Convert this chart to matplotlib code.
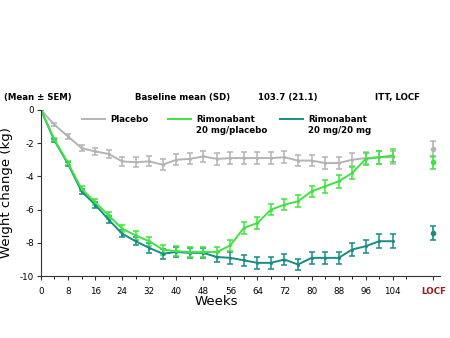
import numpy as np
import matplotlib.pyplot as plt

plt.rcParams['font.family'] = ['DejaVu Sans']
plt.rcParams['axes.unicode_minus'] = False

weeks = list(range(0, 105, 4))

placebo = [0, -0.9, -1.6, -2.3, -2.5, -2.65, -3.1, -3.15, -3.1, -3.3, -3.0, -2.95, -2.8, -2.95,
           -2.9, -2.9, -2.9, -2.9, -2.85, -3.05, -3.05, -3.2, -3.2, -3.0, -2.9, -2.85, -2.85]
placebo_err = [0, 0.1, 0.15, 0.2, 0.22, 0.25, 0.28, 0.3, 0.3, 0.32, 0.32, 0.33, 0.35, 0.35,
               0.35, 0.35, 0.35, 0.35, 0.35, 0.35, 0.35, 0.38, 0.38, 0.38, 0.38, 0.38, 0.38]

rimo_pbo = [0, -1.8, -3.2, -4.75, -5.55, -6.35, -7.15, -7.55, -7.9, -8.4, -8.5, -8.55, -8.55, -8.55,
            -8.15, -7.1, -6.8, -6.0, -5.7, -5.5, -4.9, -4.6, -4.3, -3.8, -2.95, -2.85, -2.75]
rimo_pbo_err = [0, 0.1, 0.12, 0.15, 0.18, 0.2, 0.22, 0.25, 0.28, 0.3, 0.3, 0.3, 0.32, 0.32,
                0.35, 0.35, 0.35, 0.35, 0.35, 0.35, 0.35, 0.38, 0.38, 0.38, 0.38, 0.4, 0.4]

rimo_20 = [0, -1.85, -3.25, -4.9, -5.7, -6.6, -7.45, -7.9, -8.3, -8.65, -8.55, -8.6, -8.6, -8.85,
           -8.9, -9.05, -9.2, -9.2, -9.0, -9.3, -8.9, -8.9, -8.9, -8.4, -8.2, -7.9, -7.9]
rimo_20_err = [0, 0.1, 0.12, 0.15, 0.18, 0.2, 0.22, 0.25, 0.28, 0.3, 0.3, 0.3, 0.32, 0.32,
               0.35, 0.35, 0.35, 0.35, 0.35, 0.35, 0.38, 0.38, 0.38, 0.4, 0.4, 0.42, 0.42]

locf_week = 116
locf_vals = [-2.35, -3.15, -7.4]
locf_errs = [0.5, 0.4, 0.4]

c_pbo = '#b4b4b4'
c_green = '#3ee43e'
c_teal = '#178c84'
colors = [c_pbo, c_green, c_teal]

fig = plt.figure(figsize=(4.5, 3.38), dpi=100)
ax = fig.add_axes([0.091, 0.183, 0.887, 0.492])

series = [(placebo, placebo_err, c_pbo),
          (rimo_20, rimo_20_err, c_teal),
          (rimo_pbo, rimo_pbo_err, c_green)]
for vals, err, col in series:
    ax.errorbar(weeks, vals, yerr=err, color=col, lw=1.4, elinewidth=1.1,
                capsize=2, capthick=1.1, marker='o', ms=1.2)

for v, e, col in zip(locf_vals, locf_errs, colors):
    ax.errorbar([locf_week], [v], yerr=[e], color=col, lw=1.2, elinewidth=1.2,
                capsize=2, capthick=1.1, marker='o', ms=3)

ax.set_xlim(0, 118)
ax.set_ylim(-10, 0)
for s in ['top', 'right']:
    ax.spines[s].set_visible(False)
ax.spines['left'].set_color('#333333')
ax.spines['bottom'].set_color('#333333')

xt = list(range(0, 105, 8)) + [locf_week]
ax.set_xticks(xt)
ax.set_xticklabels([str(w) for w in range(0, 105, 8)] + ['LOCF'], fontsize=6.3)
ax.get_xticklabels()[-1].set_color('#9b1c1c')
ax.get_xticklabels()[-1].set_fontweight('bold')
ax.set_xticks(list(range(4, 118, 8)), minor=True)
ax.set_yticks([0, -2, -4, -6, -8, -10])
ax.set_yticklabels(['0', '-2', '-4', '-6', '-8', '-10'], fontsize=6.3)
ax.tick_params(axis='both', length=3, width=0.8, pad=2, color='#333333')
ax.tick_params(axis='x', which='minor', length=2, width=0.6)
ax.tick_params(axis='x', pad=5)

ax.set_xlabel('Weeks', fontsize=9.5, labelpad=1)
ax.xaxis.set_label_coords(0.44, -0.115)
ax.set_ylabel('Weight change (kg)', fontsize=9.5, labelpad=5)

fig.text(0.008, 0.705, '(Mean \u00b1 SEM)', fontsize=6.2, fontweight='bold')
fig.text(0.30, 0.705, 'Baseline mean (SD)', fontsize=6.2, fontweight='bold')
fig.text(0.573, 0.705, '103.7 (21.1)', fontsize=6.2, fontweight='bold')
fig.text(0.833, 0.705, 'ITT, LOCF', fontsize=6.2, fontweight='bold')

# legend drawn by hand across the top of the plot
leg = [(0.182, 0.647, c_pbo, 'Placebo'),
       (0.373, 0.647, c_green, 'Rimonabant\n20 mg/placebo'),
       (0.622, 0.647, c_teal, 'Rimonabant\n20 mg/20 mg')]
for x0, y0, col, lab in leg:
    fig.add_artist(plt.Line2D([x0, x0 + 0.052], [y0, y0], color=col, lw=1.4))
    fig.text(x0 + 0.063, y0 + 0.012, lab, fontsize=6.2, fontweight='bold',
             va='top', linespacing=1.25)

fig.savefig('out.png', dpi=100)
